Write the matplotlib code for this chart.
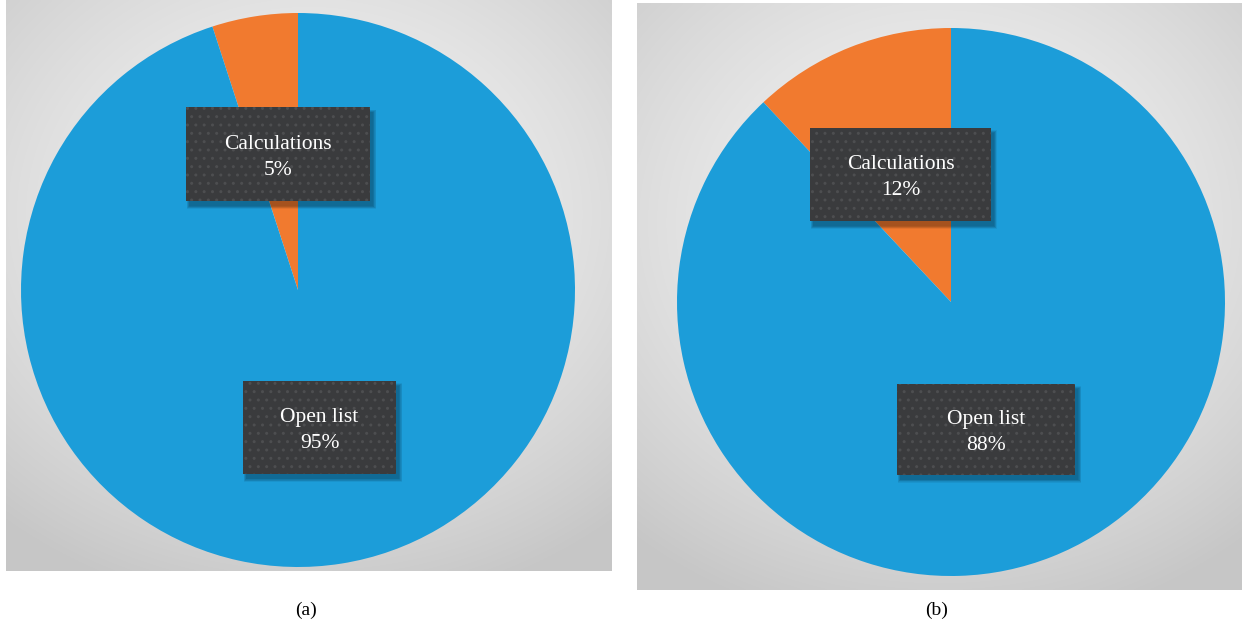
import numpy as np
import matplotlib.pyplot as plt
from matplotlib.patches import Rectangle

labels = ["Calculations", "Open list"]
share_a = [5, 95]
share_b = [12, 88]
colors = ["#f17a2f", "#1c9dd9"]

W, H = 1242, 631
fig = plt.figure(figsize=(W / 100, H / 100), dpi=100)
fig.patch.set_facecolor("white")


def px_axes(x0, y0, x1, y1):
    # pixel box (top-left origin) -> figure axes
    return fig.add_axes([x0 / W, (H - y1) / H, (x1 - x0) / W, (y1 - y0) / H])


def panel_bg(x0, y0, x1, y1):
    ax = px_axes(x0, y0, x1, y1)
    yy, xx = np.mgrid[-1:1:300j, -1:1:300j]
    r = np.sqrt((xx * 0.9) ** 2 + ((yy + 0.25) * 1.0) ** 2)
    g = 0.95 - 0.17 * np.clip(r, 0, 1.4) ** 1.6 / 1.4 ** 1.6
    img = np.dstack([g, g, g])
    ax.imshow(img, extent=[0, 1, 0, 1], aspect="auto", interpolation="bilinear")
    ax.set_axis_off()


def label_box(ax, cx, cy, w, h, text):
    # soft drop shadow
    for k in range(6):
        d = 0.004 * k
        ax.add_patch(Rectangle((cx - w / 2 + 0.012 - d / 2, cy - h / 2 - 0.018 - d / 2),
                               w + d, h + d, facecolor="black", alpha=0.06,
                               lw=0, zorder=3))
    ax.add_patch(Rectangle((cx - w / 2, cy - h / 2), w, h, facecolor="#3a3b3d",
                           edgecolor="#4d4e50", lw=0, hatch="..", zorder=4))
    ax.text(cx, cy - 0.01, text, ha="center", va="center", color="white",
            fontsize=15.5, family="Liberation Serif", linespacing=1.5, zorder=5)


def pie_panel(bg, circle, values, boxes):
    panel_bg(*bg)
    cx, cy, r = circle
    ax = px_axes(cx - r, cy - r, cx + r, cy + r)
    ax.pie(values, colors=colors, startangle=90, counterclock=True,
           radius=1, wedgeprops=dict(linewidth=0))
    ax.set_xlim(-1, 1)
    ax.set_ylim(-1, 1)
    ax.set_aspect("equal")
    ax.set_axis_off()
    for (bx, by, bw, bh), name, v in zip(boxes, labels, values):
        label_box(ax, bx, by, bw, bh, f"{name}\n{v}%")


pie_panel((6, 0, 612, 571), (298, 290, 277), share_a,
          [(-0.072, 0.49, 0.664, 0.339), (0.078, -0.496, 0.552, 0.336)])
pie_panel((637, 3, 1242, 590), (951, 302, 274), share_b,
          [(-0.184, 0.465, 0.66, 0.34), (0.128, -0.465, 0.65, 0.332)])

fig.text(306 / W, 1 - 610 / H, "(a)", ha="center", va="center",
         fontsize=14, family="Liberation Serif")
fig.text(937 / W, 1 - 610 / H, "(b)", ha="center", va="center",
         fontsize=14, family="Liberation Serif")

fig.savefig("out.png", dpi=100)
